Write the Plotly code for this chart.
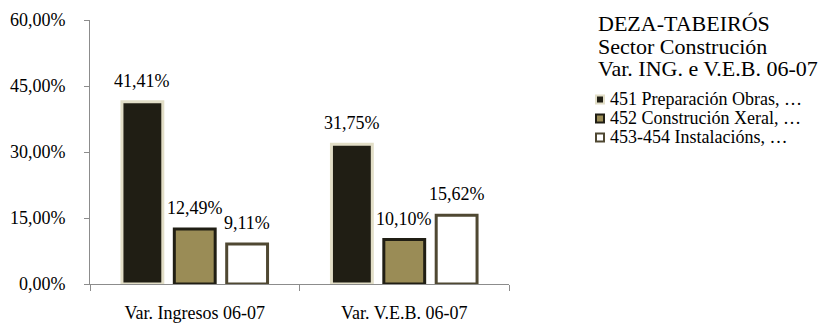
import plotly.graph_objects as go

categories = ["Var. Ingresos 06-07", "Var. V.E.B. 06-07"]
series_names = ["451 Preparación Obras, …", "452 Construción Xeral, …", "453-454 Instalacións, …"]
series_values = [
    [41.41, 31.75],
    [12.49, 10.10],
    [9.11, 15.62],
]
y_ticks = [0, 15, 30, 45, 60]
y_ticktext = ["0,00%", "15,00%", "30,00%", "45,00%", "60,00%"]
title_lines = ["DEZA-TABEIRÓS", "Sector Construción", "Var. ING. e V.E.B. 06-07"]

fills = ["#201e14", "#9a8c56", "#ffffff"]
borders = ["#e2dec7", "#201e14", "#4f4832"]

FONT = "'Liberation Serif', 'Times New Roman', Times, serif"
OFF = 8  # page body margin
W, H = 827 - OFF, 329 - OFF
ML, MR, MT, MB = 90 - OFF, 318, 20 - OFF, 45
PW, PH = W - ML - MR, H - MT - MB
BARGAP = 0.25


def px_x(x):
    return (x - OFF - ML) / PW


def px_y(y):
    return (H - MB - (y - OFF)) / PH


def block(lines, glyph_size):
    return "<br>".join(f'<span style="font-size:{glyph_size}px">{t}</span>' for t in lines)


fig = go.Figure()
for name, vals, fc, bc in zip(series_names, series_values, fills, borders):
    fig.add_trace(go.Bar(
        x=categories, y=vals, name=name,
        marker=dict(color=fc, line=dict(color=bc, width=3)),
        showlegend=False,
    ))

annotations = []
slot = (1 - BARGAP) / len(series_values)
for i, vals in enumerate(series_values):
    for j, v in enumerate(vals):
        annotations.append(dict(
            x=j + (i - (len(series_values) - 1) / 2) * slot, y=v,
            xref="x", yref="y", text=f"{v:.2f}".replace(".", ",") + "%",
            showarrow=False, yanchor="middle", yshift=21,
            font=dict(family=FONT, size=18, color="#000")))

# title block (one text, tight line spacing like the original)
TITLE_STEP = 22.5
annotations.append(dict(
    text=block(title_lines, 22), xref="paper", yref="paper",
    x=px_x(596), y=px_y(24 + TITLE_STEP), xanchor="left", yanchor="middle",
    align="left", showarrow=False,
    font=dict(family=FONT, size=TITLE_STEP / 1.3, color="#000")))

# legend block
LEG_TOP, LEG_STEP = 99.5, 19
shapes = []
for k, (fc, bc) in enumerate(zip(fills, borders)):
    cy = LEG_TOP + LEG_STEP * k
    shapes.append(dict(type="rect", xref="paper", yref="paper",
                       x0=px_x(596), x1=px_x(604), y0=px_y(cy + 4), y1=px_y(cy - 4),
                       fillcolor=fc, line=dict(color=bc, width=2)))
annotations.append(dict(
    text=block(series_names, 18), xref="paper", yref="paper",
    x=px_x(608), y=px_y(LEG_TOP + LEG_STEP), xanchor="left", yanchor="middle",
    align="left", showarrow=False,
    font=dict(family=FONT, size=LEG_STEP / 1.3, color="#000")))

fig.update_layout(
    width=W, height=H,
    margin=dict(l=ML, r=MR, t=MT, b=MB, autoexpand=False),
    paper_bgcolor="white", plot_bgcolor="white",
    barmode="group", bargap=BARGAP, bargroupgap=0.22,
    separators=",.",
    font=dict(family=FONT, size=18, color="#000"),
    showlegend=False,
    annotations=annotations,
    shapes=shapes,
)
fig.update_yaxes(range=[0, 60], tickvals=y_ticks, ticktext=y_ticktext,
                 showgrid=False, showline=True, linecolor="#8c8c8c", linewidth=1,
                 ticks="outside", ticklen=5, tickcolor="#8c8c8c",
                 ticklabelstandoff=15, zeroline=False, automargin=False,
                 tickfont=dict(family=FONT, size=18))
fig.update_xaxes(showgrid=False, showline=True, linecolor="#8c8c8c", linewidth=1,
                 ticks="outside", ticklen=6, tickcolor="#8c8c8c",
                 tickson="boundaries", ticklabelstandoff=12, automargin=False,
                 tickfont=dict(family=FONT, size=18))

fig.write_html("out.html")
